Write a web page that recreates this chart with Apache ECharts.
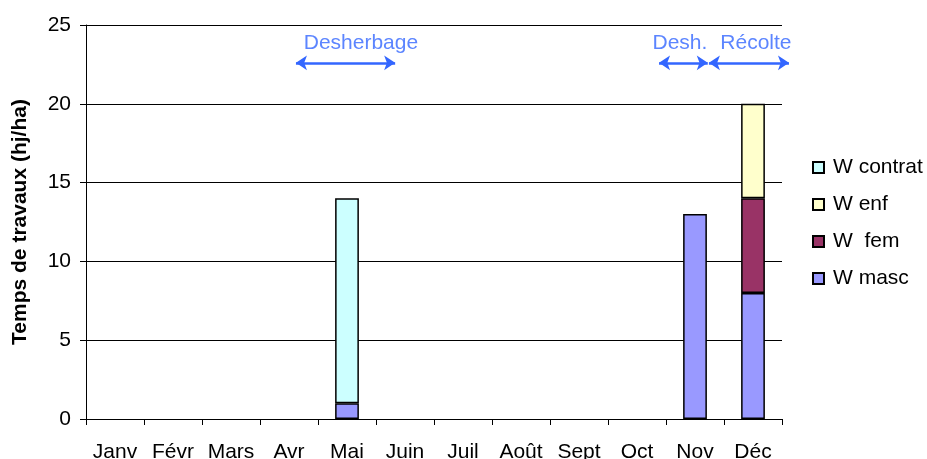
<!DOCTYPE html>
<html>
<head>
<meta charset="utf-8">
<script src="https://cdn.jsdelivr.net/npm/echarts@6/dist/echarts.min.js"></script>
<style>
  html, body { margin: 0; padding: 0; background: #fff; }
  #chart { width: 927px; height: 459px; }
</style>
</head>
<body>
<div id="chart"></div>
<script>
// mois (axe des x)
var months = ['Janv', 'Févr', 'Mars', 'Avr', 'Mai', 'Juin', 'Juil', 'Août', 'Sept', 'Oct', 'Nov', 'Déc'];
// temps de travaux par catégorie (hj/ha), null = rien
var wMasc    = [null, null, null, null, 1,  null, null, null, null, null, 13,   8];
var wFem     = [null, null, null, null, null, null, null, null, null, null, null, 6];
var wEnf     = [null, null, null, null, null, null, null, null, null, null, null, 6];
var wContrat = [null, null, null, null, 13, null, null, null, null, null, null, null];
var yTicks = [0, 5, 10, 15, 20, 25];

// annotations (en index de mois, 0 = Janv)
var arrowText  = ['Desherbage', 'Desh.', 'Récolte'];
var arrowFrom  = [3.12, 9.38, 10.24];
var arrowTo    = [4.83, 10.22, 11.62];
var textCenter = [4.24, 9.74, 11.05];
var arrowLevel = 22.6;
var textLevel  = 23.85;

var blue = '#3366FF';
var font = 'Liberation Sans';

var chart = echarts.init(document.getElementById('chart'));

function barSeries(name, data, color) {
  return {
    name: name,
    type: 'bar',
    stack: 'w',
    barWidth: '41%',
    data: data,
    itemStyle: { color: color, borderColor: '#000', borderWidth: 1.5 },
    animation: false
  };
}

var option = {
  backgroundColor: '#fff',
  textStyle: { fontFamily: font },
  grid: { left: 86, right: 145, top: 25, bottom: 40, outerBoundsMode: 'none' },
  legend: {
    orient: 'vertical',
    left: 812,
    top: 157,
    padding: 0,
    itemWidth: 11,
    itemHeight: 11,
    itemGap: 16,
    icon: 'rect',
    data: ['W contrat', 'W enf', 'W  fem', 'W masc'],
    textStyle: { fontFamily: font, fontSize: 21, color: '#000', padding: [0, 0, 0, 4] }
  },
  xAxis: [{
    type: 'category',
    data: months,
    axisLine: { lineStyle: { color: '#000', width: 1 } },
    axisTick: { show: true, length: 6, lineStyle: { color: '#000' } },
    axisLabel: { color: '#000', fontFamily: font, fontSize: 21, margin: 23, interval: 0 }
  }, {
    type: 'value',
    min: -0.5,
    max: 11.5,
    show: false
  }],
  yAxis: {
    type: 'value',
    min: yTicks[0],
    max: yTicks[yTicks.length - 1],
    interval: 5,
    name: 'Temps de travaux (hj/ha)',
    nameLocation: 'middle',
    nameGap: 55,
    nameTextStyle: { color: '#000', fontFamily: font, fontSize: 21, fontWeight: 'bold' },
    axisLine: { show: true, onZero: false, lineStyle: { color: '#000', width: 1 } },
    axisTick: { show: true, length: 6, lineStyle: { color: '#000' } },
    axisLabel: { color: '#000', fontFamily: font, fontSize: 21, margin: 15 },
    splitLine: { show: true, lineStyle: { color: '#000', width: 1 } }
  },
  series: [
    barSeries('W masc', wMasc, '#9999FF'),
    barSeries('W  fem', wFem, '#993366'),
    barSeries('W enf', wEnf, '#FFFFCC'),
    barSeries('W contrat', wContrat, '#CCFFFF'),
    {
      // flèches doubles des périodes de travaux
      type: 'lines',
      coordinateSystem: 'cartesian2d',
      xAxisIndex: 1,
      yAxisIndex: 0,
      clip: false,
      symbol: ['arrow', 'arrow'],
      symbolSize: 11,
      lineStyle: { color: blue, width: 2.5, opacity: 1 },
      data: arrowText.map(function (t, i) {
        return { coords: [[arrowFrom[i], arrowLevel], [arrowTo[i], arrowLevel]] };
      }),
      silent: true,
      animation: false
    },
    {
      // textes au-dessus des flèches
      type: 'scatter',
      xAxisIndex: 1,
      yAxisIndex: 0,
      clip: false,
      symbolSize: 0,
      data: arrowText.map(function (t, i) { return { name: t, value: [textCenter[i], textLevel] }; }),
      label: {
        show: true,
        position: 'inside',
        formatter: '{b}',
        color: blue,
        fontFamily: font,
        fontSize: 21
      },
      silent: true,
      animation: false
    }
  ]
};

chart.setOption(option);
window.addEventListener('resize', function () {
  chart.resize();
});
</script>
</body>
</html>
